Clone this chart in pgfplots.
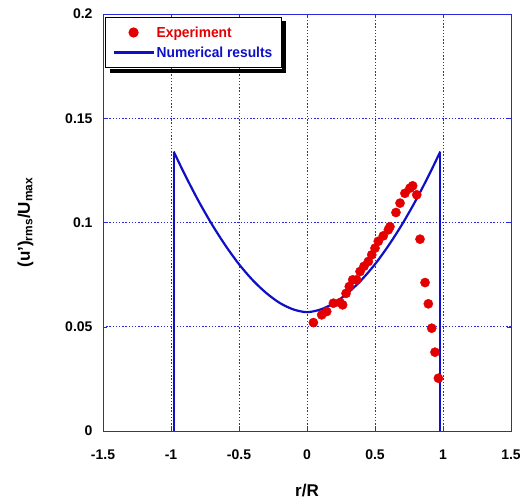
\documentclass[border=0pt]{standalone}
\usepackage{fontspec}
\setmainfont{Liberation Sans}
\newfontfamily\narrowfont[FakeStretch=0.95]{Liberation Sans}
\usepackage{pgfplots}
\pgfplotsset{compat=1.18}
\definecolor{myred}{RGB}{228,0,0}
\definecolor{myblue}{RGB}{15,15,200}
\definecolor{gridblue}{RGB}{40,40,220}
\pgfplotsset{
  dotlegend/.style={legend image code/.code={\draw[##1] plot coordinates {(20pt,0pt)};}},
  linelegend/.style={legend image code/.code={\draw[##1] (0pt,0pt) -- (40pt,0pt);}},
}
\begin{document}
\begin{tikzpicture}
\begin{axis}[
  scale only axis, width=408pt, height=417pt,
  xmin=-1.5, xmax=1.5, ymin=0, ymax=0.2,
  xtick={-1.5,-1,-0.5,0,0.5,1,1.5},
  ytick={0,0.05,0.1,0.15,0.2},
  grid=major,
  major grid style={gridblue, line width=0.8pt, dash pattern=on 1.4pt off 1.8pt},
  axis line style={gridblue, line width=0.8pt},
  tick style={gridblue},
  tick align=inside,
  /pgf/number format/assume math mode=true,
  ticklabel style={font=\fontsize{14}{16}\selectfont\bfseries},
  yticklabel style={/pgf/number format/fixed, /pgf/number format/precision=2, xshift=-7pt},
  xticklabel style={/pgf/number format/fixed, yshift=-15pt},
  xlabel={\bfseries r/R},
  ylabel={\bfseries (u')\textsubscript{rms}/U\textsubscript{max}},
  label style={font=\fontsize{17}{19}\selectfont},
  xlabel style={yshift=-18pt},
  ylabel style={yshift=25pt},
  legend style={name=leg, at={(rel axis cs:0,1)}, anchor=north west, xshift=2pt, yshift=-3pt,
    draw=black, line width=1pt, fill=white,
    font=\fontsize{14.5}{16}\selectfont\narrowfont\bfseries,
    inner xsep=7pt, inner ysep=7pt,
    row sep=4pt},
  legend cell align=left,
]
\addplot[only marks, mark=*, mark size=4.6pt, color=myred, dotlegend]
coordinates {
(0.047,0.052)(0.108,0.0557)(0.145,0.0573)(0.194,0.0613)(0.243,0.0616)(0.262,0.0605)
(0.287,0.066)(0.311,0.0693)(0.336,0.0725)(0.365,0.0725)(0.39,0.0765)(0.419,0.079)
(0.451,0.0813)(0.476,0.0845)(0.5,0.0877)(0.524,0.091)(0.561,0.0936)(0.598,0.0965)
(0.61,0.098)(0.654,0.1048)(0.684,0.1093)(0.72,0.114)(0.757,0.1165)(0.777,0.1176)
(0.807,0.1133)(0.831,0.092)(0.868,0.0712)(0.892,0.061)(0.917,0.0493)(0.941,0.0378)
(0.966,0.0253)
};
\addlegendentry{\textcolor{myred}{Experiment}}
\addplot[myblue, line width=2.2pt, smooth, linelegend]
coordinates {
(-0.98,0.134)(-0.9,0.1232)(-0.8,0.1106)(-0.7,0.0992)(-0.6,0.089)(-0.5,0.080)
(-0.4,0.0724)(-0.3,0.0662)(-0.2,0.0614)(-0.1,0.0583)(0,0.057)
(0.1,0.0583)(0.2,0.0614)(0.3,0.0662)(0.4,0.0724)(0.5,0.080)(0.6,0.089)
(0.7,0.0992)(0.8,0.1106)(0.9,0.1232)(0.98,0.134)
};
\addlegendentry{\textcolor{myblue}{Numerical results}}
\addplot[myblue, line width=2.2pt, forget plot] coordinates {(-0.98,0)(-0.98,0.134)};
\addplot[myblue, line width=2.2pt, forget plot] coordinates {(0.98,0)(0.98,0.134)};
\coordinate (sw) at (rel axis cs:0,0);
\coordinate (ne) at (rel axis cs:1,1);
\end{axis}
\fill[black] ([shift={(0.5pt,-4.5pt)}]leg.north east) rectangle ([shift={(4.5pt,-4.5pt)}]leg.south east);
\fill[black] ([shift={(4.5pt,-0.5pt)}]leg.south west) rectangle ([shift={(4.5pt,-4.5pt)}]leg.south east);
\pgfresetboundingbox
\path ([shift={(-103pt,-72pt)}]sw) rectangle ([shift={(9pt,14pt)}]ne);
\end{tikzpicture}
\end{document}
